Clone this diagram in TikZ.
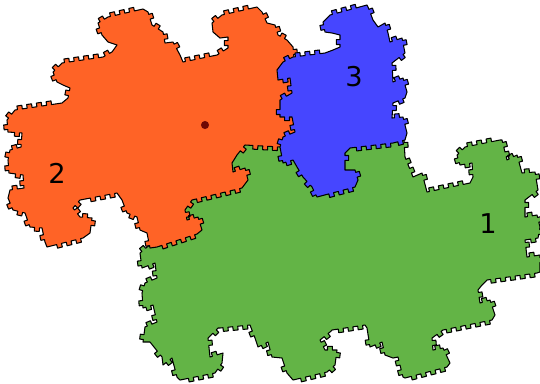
\documentclass[tikz,border=0pt]{standalone}
\usepackage{fontspec}
\setmainfont{DejaVu Sans}
\usetikzlibrary{decorations}
\definecolor{tileone}{RGB}{99,180,70}
\definecolor{tiletwo}{RGB}{255,99,38}
\definecolor{tilethree}{RGB}{70,70,255}
\definecolor{centre}{RGB}{110,8,4}
% small square teeth along the tile borders, none on short pieces
\pgfdeclaredecoration{crenel}{tooth}{%
  \state{tooth}[width=5.6pt, switch if input segment less than=5.7pt to rest]{%
    \pgfpathlineto{\pgfpoint{1.4pt}{0pt}}%
    \pgfpathlineto{\pgfpoint{1.4pt}{2.1pt}}%
    \pgfpathlineto{\pgfpoint{4.2pt}{2.1pt}}%
    \pgfpathlineto{\pgfpoint{4.2pt}{0pt}}%
    \pgfpathlineto{\pgfpoint{5.6pt}{0pt}}%
  }%
  \state{rest}[width={\pgfdecoratedinputsegmentremainingdistance+0.02pt}, next state=tooth]{%
    \pgfpathlineto{\pgfpointdecoratedinputsegmentlast}%
  }%
  \state{final}{\pgfpathlineto{\pgfpointdecoratedpathlast}}%
}
\begin{document}
\begin{tikzpicture}[x=0.02cm, y=-0.02cm, line join=round, line cap=round,
    tile/.style={draw=black, line width=0.6pt, decorate, decoration=crenel},
    lbl/.style={font=\fontsize{15.5}{15.5}\selectfont, inner sep=0pt}]
  \useasboundingbox (0,0) rectangle (540,383);
  % tile 1 (runs under tiles 2 and 3)
  \draw[tile, fill=tileone] (140,253) -- (152,243) -- (165,225) -- (185,195)
    -- (215,170) -- (230,140) -- (260,130) -- (285,140) -- (305,160)
    -- (330,170) -- (340,148) -- (370,138) -- (398,140) -- (404,140)
    -- (405,157) -- (413,177) -- (422,173) -- (427,192) -- (470,183)
    -- (473,177) -- (472,163) -- (460,165) -- (457,155) -- (465,147)
    -- (500,140) -- (502,140) -- (507,160) -- (517,155) -- (522,173)
    -- (535,172) -- (538,190) -- (525,200) -- (525,217) -- (537,215)
    -- (540,227) -- (538,238) -- (525,240) -- (527,257) -- (540,255)
    -- (540,272) -- (537,273) -- (487,280) -- (482,285) -- (478,290)
    -- (480,303) -- (490,300) -- (495,315) -- (492,320) -- (443,330)
    -- (432,338) -- (433,350) -- (443,348) -- (450,363) -- (447,367)
    -- (405,378) -- (403,377) -- (398,357) -- (393,358) -- (385,355)
    -- (382,342) -- (370,347) -- (367,328) -- (365,325) -- (332,330)
    -- (330,332) -- (320,340) -- (325,350) -- (337,350) -- (335,365)
    -- (327,372) -- (293,380) -- (287,373) -- (282,358) -- (272,357)
    -- (268,342) -- (258,347) -- (255,338) -- (250,325) -- (220,328)
    -- (218,328) -- (208,338) -- (210,357) -- (223,353) -- (222,363)
    -- (215,373) -- (180,380) -- (177,377) -- (172,358) -- (163,365)
    -- (162,357) -- (150,342) -- (143,342) -- (145,327) -- (157,322)
    -- (153,305) -- (143,308) -- (142,293) -- (145,283) -- (157,278)
    -- (155,263) -- (142,268) -- cycle;
  % tile 2 (runs under tile 3)
  \draw[tile, fill=tiletwo] (7,120) -- (15,110) -- (62,103) -- (68,98)
    -- (70,88) -- (63,85) -- (57,82) -- (53,72) -- (62,63) -- (103,57)
    -- (112,52) -- (117,45) -- (108,42) -- (102,35) -- (98,23) -- (108,17)
    -- (143,9) -- (148,12) -- (152,25) -- (163,32) -- (165,43) -- (173,42)
    -- (180,55) -- (183,62) -- (217,55) -- (228,48) -- (228,37) -- (220,38)
    -- (213,32) -- (212,23) -- (222,15) -- (257,7) -- (262,12) -- (267,23)
    -- (275,25) -- (278,35) -- (287,40) -- (293,47) -- (294,58)
    -- (300,75) -- (306,100) -- (305,140) -- (292,146) -- (280,147)
    -- (245,145) -- (237,155) -- (232,163) -- (233,172) -- (245,168)
    -- (248,180) -- (242,188) -- (192,200) -- (185,210) -- (187,220)
    -- (198,217) -- (202,230) -- (197,234) -- (157,247) -- (150,248)
    -- (147,233) -- (140,230) -- (137,217) -- (127,213) -- (122,200)
    -- (117,193) -- (80,200) -- (73,208) -- (80,217) -- (92,218)
    -- (90,233) -- (83,238) -- (47,247) -- (45,242) -- (42,228)
    -- (30,227) -- (25,213) -- (13,210) -- (8,198) -- (10,190)
    -- (24,188) -- (23,175) -- (9,173) -- (8,160) -- (10,150)
    -- (21,147) -- (22,133) -- (8,132) -- cycle;
  % tile 3
  \draw[tile, fill=tilethree] (293,57) -- (325,53) -- (333,50) -- (340,47)
    -- (340,35) -- (332,33) -- (325,32) -- (323,22) -- (330,15) -- (367,5)
    -- (368,7) -- (373,20) -- (378,27) -- (385,23) -- (388,33) -- (390,42)
    -- (402,38) -- (405,53) -- (392,63) -- (393,82) -- (403,78) -- (407,92)
    -- (405,98) -- (393,103) -- (392,118) -- (403,117) -- (407,133)
    -- (405,140) -- (393,143) -- (350,148) -- (345,153) -- (345,170)
    -- (355,170) -- (358,180) -- (355,187) -- (317,197) -- (312,187)
    -- (303,177) -- (297,167) -- (293,160) -- (283,163) -- (280,147)
    -- (283,137) -- (295,132) -- (292,117) -- (280,117) -- (280,100)
    -- (292,93) -- (290,78) -- (278,80) -- (277,70) -- (283,62) -- cycle;
  % centre point and labels
  \fill[centre] (205,125) circle[radius=2.3pt];
  \node[lbl] (one) at (488,224) {1};
  \node[lbl] (two) at (57,173) {2};
  \node[lbl] (three) at (354,77) {3};
\end{tikzpicture}
\end{document}
